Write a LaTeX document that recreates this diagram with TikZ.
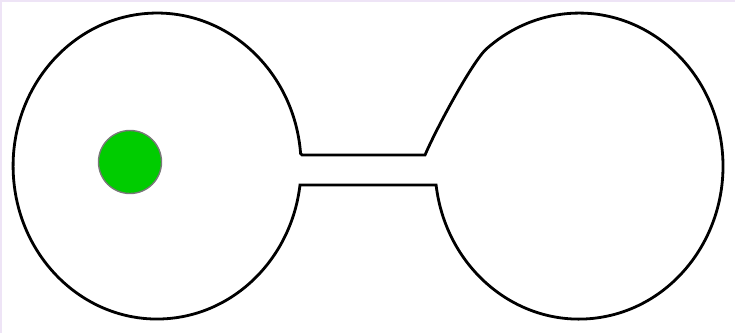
\documentclass[tikz,border=0pt]{standalone}
\begin{document}
\begin{tikzpicture}[x=1pt,y=1pt,
  outline/.style={draw=black,line width=2.8pt,line join=miter},
  ball/.style={circle,fill={rgb,255:red,0;green,204;blue,0},draw={rgb,255:red,120;green,120;blue,120},line width=1.4pt,minimum size=63pt,inner sep=0pt},
  edge/.style={fill={rgb,255:red,238;green,228;blue,246}}]
\useasboundingbox (0,0) rectangle (735,333);
\fill[white] (0,0) rectangle (735,333);
\fill[edge] (0,331) rectangle (735,333);
\fill[edge] (0,0) rectangle (1.5,333);
\coordinate (tl) at (302,178);
\coordinate (bl) at (299.9,148);
\coordinate (br) at (436.1,148);
\coordinate (tr) at (425,178);
\draw[outline] (tl) -- (300.6,179.5) arc[start angle=4.7,end angle=352.9,x radius=144,y radius=153]
  -- (br) arc[start angle=187.1,end angle=490,x radius=144,y radius=153]
  .. controls (473,272) and (438,208) .. (tr) -- cycle;
\node[ball] (b) at (130,171) {};
\end{tikzpicture}
\end{document}
